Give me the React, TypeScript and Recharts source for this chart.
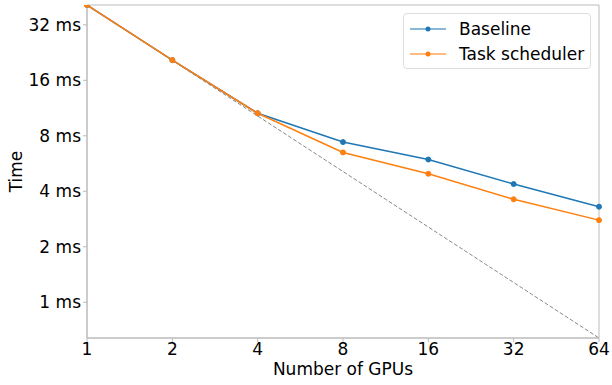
import React from 'react';
import {
  LineChart,
  Line,
  XAxis,
  YAxis,
  ReferenceArea,
  Label,
} from 'recharts';

// number of GPUs on the x axis
const gpus = [1, 2, 4, 8, 16, 32, 64];
// time per step in ms
const baseline = [41, 20.6, 10.6, 7.4, 5.95, 4.38, 3.3];
const taskScheduler = [41, 20.6, 10.6, 6.5, 4.98, 3.62, 2.79];
// ideal linear scaling (dashed grey line)
const ideal = [41, 20.5, 10.25, 5.12, 2.56, 1.28, 0.64];

const xTicks = [1, 2, 4, 8, 16, 32, 64];
const yTicks = [1, 2, 4, 8, 16, 32];

const data = gpus.map((n, i) => ({
  gpus: n,
  baseline: baseline[i],
  task: taskScheduler[i],
  ideal: ideal[i],
}));

const FONT = '"DejaVu Sans", sans-serif';
const tickStyle = { fill: '#000', fontSize: 17, fontFamily: FONT };

const legendItems = [
  { name: 'Baseline', color: '#1f77b4' },
  { name: 'Task scheduler', color: '#ff7f0e' },
];

const LegendBox = () => (
  <div
    style={{
      position: 'absolute',
      left: 403,
      top: 13,
      width: 188,
      height: 56,
      boxSizing: 'border-box',
      border: '1px solid #ddd',
      borderRadius: 4,
      background: '#fff',
      padding: '2px 0 0 6px',
      fontFamily: FONT,
      fontSize: 17,
      color: '#000',
    }}
  >
    {legendItems.map((e) => (
      <div key={e.name} style={{ display: 'flex', alignItems: 'center', height: 25 }}>
        <svg width={36} height={10} style={{ marginRight: 13 }}>
          <line x1={0} y1={5} x2={36} y2={5} stroke={e.color} strokeOpacity={0.7} strokeWidth={1.5} />
          <circle cx={18} cy={5} r={2.5} fill={e.color} />
        </svg>
        <span>{e.name}</span>
      </div>
    ))}
  </div>
);

const App: React.FC = () => {
  return (
    <div style={{ position: 'absolute', left: 0, top: 0, width: 612, height: 385, background: '#fff' }}>
      <LineChart
        width={612}
        height={385}
        data={data}
        margin={{ top: 5, right: 13, left: 0, bottom: 0 }}
      >
        <XAxis
          dataKey="gpus"
          type="number"
          scale="log"
          domain={[1, 64]}
          ticks={xTicks}
          interval={0}
          height={47}
          tick={tickStyle}
          tickSize={4}
          tickMargin={1}
          axisLine={{ stroke: '#bbb' }}
          tickLine={{ stroke: '#bbb' }}
        >
          <Label value="Number of GPUs" position="insideBottom" offset={10} style={tickStyle} />
        </XAxis>
        <YAxis
          type="number"
          scale="log"
          domain={[0.64, 41]}
          allowDataOverflow
          ticks={yTicks}
          interval={0}
          width={87}
          tick={tickStyle}
          tickSize={4}
          tickMargin={2}
          tickFormatter={(v: number) => `${v} ms`}
          axisLine={{ stroke: '#bbb' }}
          tickLine={{ stroke: '#bbb' }}
        >
          <Label
            value="Time"
            angle={-90}
            position="insideLeft"
            offset={16}
            style={{ ...tickStyle, textAnchor: 'middle' }}
          />
        </YAxis>
        <ReferenceArea x1={1} x2={64} y1={0.64} y2={41} fill="none" stroke="#bbb" ifOverflow="extendDomain" />
        <Line
          dataKey="ideal"
          stroke="#888"
          strokeWidth={1}
          strokeDasharray="4 2"
          dot={false}
          isAnimationActive={false}
        />
        <Line
          dataKey="baseline"
          name="Baseline"
          stroke="#1f77b4"
          strokeWidth={1.5}
          dot={{ r: 2.5, fill: '#1f77b4', stroke: '#1f77b4', strokeWidth: 1 }}
          isAnimationActive={false}
        />
        <Line
          dataKey="task"
          name="Task scheduler"
          stroke="#ff7f0e"
          strokeWidth={1.5}
          dot={{ r: 2.5, fill: '#ff7f0e', stroke: '#ff7f0e', strokeWidth: 1 }}
          isAnimationActive={false}
        />
      </LineChart>
      <LegendBox />
    </div>
  );
};

export default App;
